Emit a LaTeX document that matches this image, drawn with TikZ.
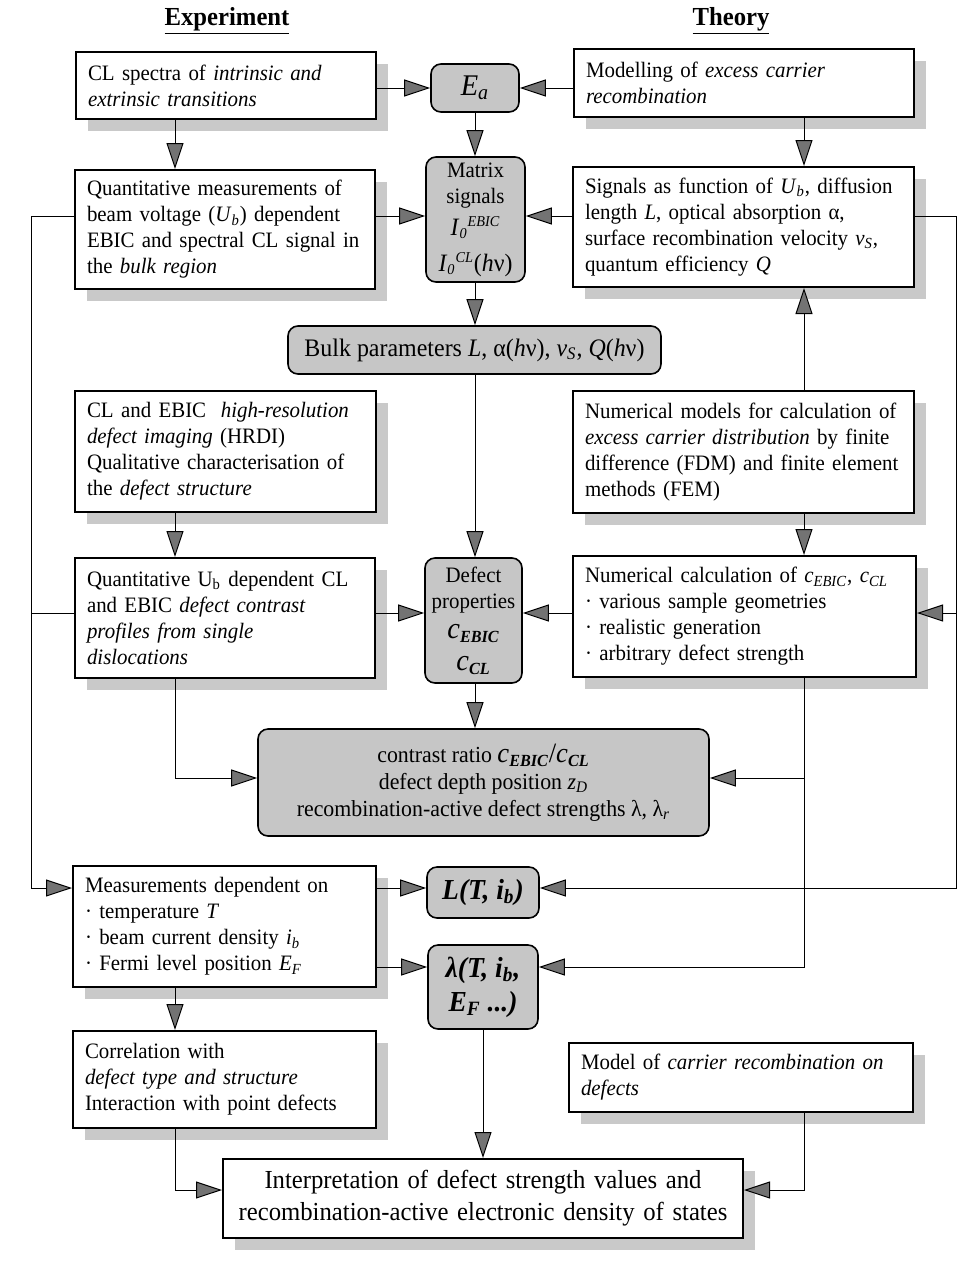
\documentclass[tikz,border=0pt]{standalone}
\usepackage{fontspec}
\setmainfont{Liberation Serif}[FakeStretch=0.95]
\usetikzlibrary{arrows.meta,shadows}
\hyphenpenalty=10000
\exhyphenpenalty=10000
\newcommand{\sbs}[1]{\textsubscript{\textit{#1}}}
\newcommand{\ssc}[1]{\mbox{\fontsize{7.5}{8}\selectfont\itshape #1}}
\newcommand{\bsc}[1]{\mbox{\fontsize{8.5}{9}\selectfont\bfseries\itshape #1}}
\begin{document}
\begin{tikzpicture}[x=0.5pt,y=-0.5pt,
  plain/.style={draw, line width=1pt, fill=white, rectangle, inner xsep=6pt, inner ysep=0pt,
    align=left, font=\fontsize{11}{13}\selectfont,
    drop shadow={shadow xshift=6pt, shadow yshift=-6pt, fill=gray!42, opacity=1}},
  shaded/.style={draw, line width=0.8pt, fill=gray!45, rounded corners=5pt, align=center,
    inner sep=0pt, font=\fontsize{11}{13}\selectfont},
  arr/.style={line width=0.5pt, -{Triangle[length=13pt,width=8.5pt,fill=black!55]}},
  conn/.style={line width=0.5pt},
  head/.style={font=\fontsize{13}{15}\selectfont\bfseries}]
\fill[white] (0,0) rectangle (978,1276);
\useasboundingbox (0,0) rectangle (978,1276);

% headers
\node[head] (hexp) at (227,21) {\underline{Experiment}};
\node[head] (hth) at (731,21) {\underline{Theory}};

% coordinates for connector lines
\coordinate (xl) at (175,0);
\coordinate (xm) at (475,0);
\coordinate (xm2) at (483,0);
\coordinate (xr) at (804,0);
\coordinate (xfl) at (31,0);
\coordinate (xfr) at (956,0);
\coordinate (y1) at (0,88);
\coordinate (y2) at (0,216);
\coordinate (y3) at (0,613);
\coordinate (y4) at (0,778);
\coordinate (y5) at (0,888);
\coordinate (y6) at (0,967);
\coordinate (y7) at (0,1190);

% row 1
\node[plain, text width=138pt, minimum height=33.5pt] (A1) at (226,85.5)
  {CL spectra of \textit{intrinsic and}\\ \textit{extrinsic transitions}};
\node[shaded, minimum width=44pt, minimum height=24pt, font=\fontsize{15}{17}\selectfont] (Ea) at (475,88)
  {\textit{E}\sbs{a}};
\node[plain, text width=158pt, minimum height=34pt] (T1) at (744,83)
  {Modelling of \textit{excess carrier}\\ \textit{recombination}};

% row 2
\node[plain, text width=138pt, minimum height=59.5pt] (A2) at (225,229.5)
  {Quantitative measurements of\\ beam voltage (\textit{U}\sbs{b}) dependent\\ EBIC and spectral CL signal in\\ the \textit{bulk region}};
\node[shaded, minimum width=49.5pt, minimum height=62.5pt] (Matrix) at (475.5,219.5)
  {Matrix\\ signals\\[3pt] {\fontsize{12.5}{14}\selectfont\textit{I}$_{\ssc{0}}{}^{\ssc{EBIC}}$}\\[5pt]
   {\fontsize{12.5}{14}\selectfont\textit{I}$_{\ssc{0}}{}^{\ssc{CL}}$(\textit{h}ν)}};
\node[plain, text width=158.5pt, minimum height=60pt] (T2) at (743.5,227)
  {Signals as function of \textit{U}\sbs{b}, diffusion\\ length \textit{L}, optical absorption α,\\ surface recombination velocity \textit{v}\sbs{S},\\ quantum efficiency \textit{Q}};

% bulk
\node[shaded, minimum width=186.5pt, minimum height=24pt, font=\fontsize{12.6}{14}\selectfont] (Bulk) at (474.5,350)
  {Bulk parameters \textit{L}, α(\textit{h}ν), \textit{v}\sbs{S}, \textit{Q}(\textit{h}ν)};

% row 3
\node[plain, text width=138.5pt, minimum height=60.5pt] (A3) at (225.5,451.5)
  {CL and EBIC \ \textit{high-resolution}\\ \textit{defect imaging} (HRDI)\\ Qualitative characterisation of\\ the \textit{defect structure}};
\node[plain, text width=158.5pt, minimum height=61pt] (T3) at (743.5,452)
  {Numerical models for calculation of\\ \textit{excess carrier distribution} by finite\\ difference (FDM) and finite element\\ methods (FEM)};

% row 4
\node[plain, text width=138pt, minimum height=60pt] (A4) at (225,618)
  {Quantitative U\textsubscript{b} dependent CL\\ and EBIC \textit{defect contrast}\\ \textit{profiles from single}\\ \textit{dislocations}};
\node[shaded, minimum width=48.5pt, minimum height=62.5pt] (Defect) at (473.5,620.5)
  {Defect\\ properties\\[2pt] {\fontsize{15}{15}\selectfont\textit{c}$_{\bsc{EBIC}}$}\\[3pt]
   {\fontsize{15}{15}\selectfont\textit{c}$_{\bsc{CL}}$}};
\node[plain, text width=159.5pt, minimum height=60.5pt] (T4) at (744.5,616.5)
  {Numerical calculation of \textit{c}\sbs{EBIC}, \textit{c}\sbs{CL}\\ · various sample geometries\\ · realistic generation\\ · arbitrary defect strength};

% contrast
\node[shaded, minimum width=225.5pt, minimum height=53.5pt, font=\fontsize{11.5}{13.5}\selectfont] (Contrast) at (483.5,782.5)
  {contrast ratio {\fontsize{14}{14}\selectfont\textit{c}$_{\bsc{EBIC}}$/\textit{c}$_{\bsc{CL}}$}\\
   defect depth position \textit{z}\sbs{D}\\
   recombination-active defect strengths λ, λ\sbs{r}};

% row 5
\node[plain, text width=139.5pt, minimum height=60.5pt] (A5) at (224.5,926.5)
  {Measurements dependent on\\ · temperature \textit{T}\\ · beam current density \textit{i}\sbs{b}\\ · Fermi level position \textit{E}\sbs{F}};
\node[shaded, minimum width=56pt, minimum height=25.5pt, font=\fontsize{14.5}{16}\selectfont\bfseries\itshape] (L) at (483,892.5)
  {L(T, i\textsubscript{b})};
\node[shaded, minimum width=55pt, minimum height=42pt, font=\fontsize{14.5}{17}\selectfont\bfseries\itshape] (Lam) at (483,987)
  {λ(T, i\textsubscript{b},\\ E\textsubscript{F} ...)};

% row 6
\node[plain, text width=139.5pt, minimum height=48.5pt] (A6) at (224.5,1079.5)
  {Correlation with\\ \textit{defect type and structure}\\ Interaction with point defects};
\node[plain, text width=160pt, minimum height=34.5pt] (T5) at (741,1077.5)
  {Model of \textit{carrier recombination on}\\ \textit{defects}};

% interpretation
\node[plain, align=center, text width=248pt, minimum height=39.5pt, font=\fontsize{13}{16}\selectfont] (Interp) at (483,1198.5)
  {Interpretation of defect strength values and\\ recombination-active electronic density of states};

% connectors
\draw[arr] (A1.east |- y1) -- (Ea.west |- y1);
\draw[arr] (T1.west |- y1) -- (Ea.east |- y1);
\draw[arr] (A1.south -| xl) -- (A2.north -| xl);
\draw[arr] (Ea.south -| xm) -- (Matrix.north -| xm);
\draw[arr] (T1.south -| xr) -- (T2.north -| xr);
\draw[arr] (A2.east |- y2) -- (Matrix.west |- y2);
\draw[arr] (T2.west |- y2) -- (Matrix.east |- y2);
\draw[arr] (Matrix.south -| xm) -- (Bulk.north -| xm);
\draw[arr] (T3.north -| xr) -- (T2.south -| xr);
\draw[arr] (Bulk.south -| xm) -- (Defect.north -| xm);
\draw[arr] (A3.south -| xl) -- (A4.north -| xl);
\draw[arr] (T3.south -| xr) -- (T4.north -| xr);
\draw[arr] (A4.east |- y3) -- (Defect.west |- y3);
\draw[arr] (T4.west |- y3) -- (Defect.east |- y3);
% left feedback
\draw[arr] (A2.west |- y2) -- (xfl |- y2) -- (xfl |- y5) -- (A5.west |- y5);
\draw[conn] (A4.west |- y3) -- (xfl |- y3);
% right feedback
\draw[arr] (T2.east |- y2) -- (xfr |- y2) -- (xfr |- y5) -- (L.east |- y5);
\draw[arr] (xfr |- y3) -- (T4.east |- y3);
% to contrast
\draw[arr] (Defect.south -| xm) -- (Contrast.north -| xm);
\draw[arr] (A4.south -| xl) -- (xl |- y4) -- (Contrast.west |- y4);
\draw[arr] (T4.south -| xr) -- (xr |- y4) -- (Contrast.east |- y4);
\draw[arr] (xr |- y4) -- (xr |- y6) -- (Lam.east |- y6);
% row 5
\draw[arr] (A5.east |- y5) -- (L.west |- y5);
\draw[arr] (A5.east |- y6) -- (Lam.west |- y6);
\draw[arr] (A5.south -| xl) -- (A6.north -| xl);
% to interpretation
\draw[arr] (A6.south -| xl) -- (xl |- y7) -- (Interp.west |- y7);
\draw[arr] (Lam.south -| xm2) -- (Interp.north -| xm2);
\draw[arr] (T5.south -| xr) -- (xr |- y7) -- (Interp.east |- y7);
\end{tikzpicture}
\end{document}
